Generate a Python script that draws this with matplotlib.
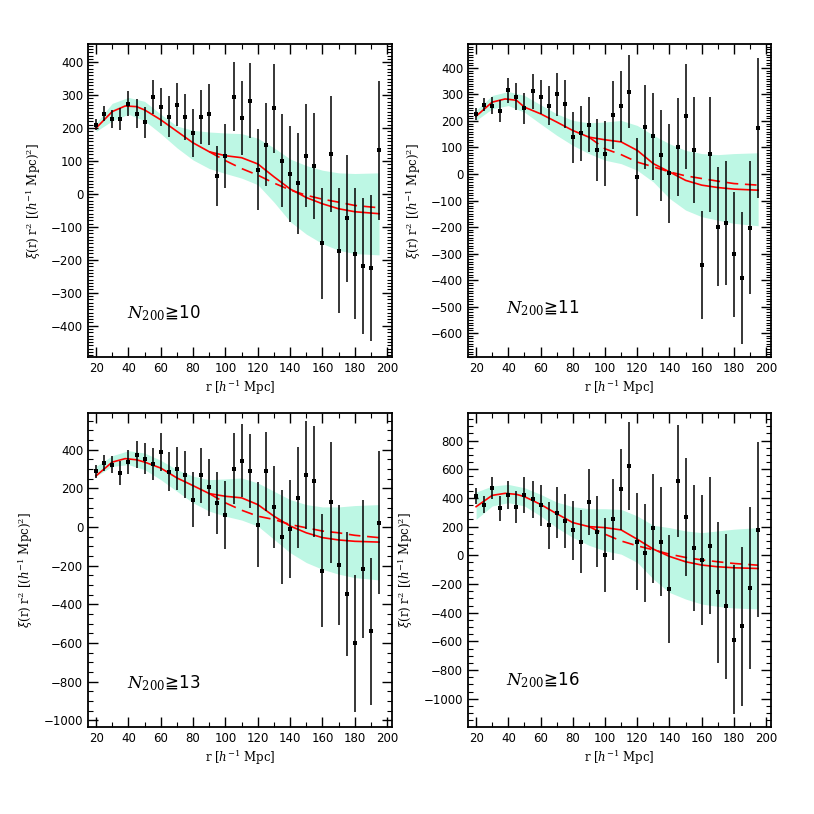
import numpy as np
import matplotlib
matplotlib.use("Agg")
import matplotlib.pyplot as plt
from matplotlib.ticker import MultipleLocator

r = np.arange(20, 200, 5)  # 20..195

# ---- Panel data ----
labels = ["10", "11", "13", "16"]

xi1 = [210, 244, 227, 227, 274, 244, 217, 295, 264, 234, 271, 233, 185, 234, 242, 54, 116, 295,
       231, 283, 74, 150, 260, 101, 60, 32, 116, 86, -150, 120, -172, -74, -181, -219, -225, 132]
er1 = [17, 22, 27, 33, 37, 43, 47, 52, 58, 62, 65, 69, 73, 83, 92, 91, 97, 105,
       112, 114, 124, 127, 135, 141, 146, 153, 157, 161, 168, 176, 190, 192, 199, 206, 222, 210]

xi2 = [227, 262, 258, 237, 315, 292, 248, 312, 290, 258, 300, 263, 139, 154, 186, 92, 77, 223,
       256, 311, -11, 177, 142, 70, 2, 102, 217, 92, -343, 74, -199, -184, -303, -393, -202, 173]
er2 = [23, 25, 33, 41, 46, 50, 58, 66, 64, 74, 81, 91, 96, 104, 103, 117, 123, 128,
       134, 136, 147, 160, 163, 173, 185, 185, 198, 200, 205, 216, 224, 233, 235, 249, 252, 264]

xi3 = [288, 331, 323, 280, 335, 374, 354, 326, 388, 285, 302, 271, 142, 268, 206, 125, 62, 302,
       343, 292, 13, 288, 104, -52, -9, 151, 271, 237, -227, 129, -196, -347, -602, -219, -540, 22]
er3 = [33, 40, 45, 60, 63, 70, 82, 83, 97, 101, 112, 123, 142, 142, 148, 159, 174, 183,
       189, 192, 219, 206, 214, 245, 253, 262, 279, 288, 292, 313, 311, 320, 354, 357, 382, 369]

xi4 = [413, 351, 471, 327, 420, 337, 420, 390, 348, 209, 297, 239, 175, 96, 374, 165, 3, 251,
       460, 622, 96, 15, 188, 96, -235, 517, 267, 50, -34, 66, -259, -356, -588, -495, -229, 177]
er4 = [58, 59, 76, 89, 99, 113, 124, 127, 143, 166, 176, 188, 205, 220, 230, 246, 258, 284,
       283, 306, 336, 342, 379, 380, 376, 392, 411, 440, 454, 478, 489, 503, 517, 554, 565, 610]

# model curves sampled at these r
rm = [20, 30, 38, 45, 50, 60, 70, 80, 90, 100, 110, 120, 130, 140, 150, 160, 170, 180, 195]

sol1 = [200, 250, 267, 265, 255, 225, 190, 155, 128, 116, 110, 91, 52, 15, -11, -30, -45, -54, -60]
sol2 = [218, 271, 283, 278, 252, 227, 196, 164, 139, 129, 121, 89, 39, 8, -24, -42, -51, -57, -61]
sol3 = [265, 336, 354, 348, 336, 305, 254, 214, 173, 159, 151, 116, 56, 5, -30, -55, -67, -74, -78]
sol4 = [339, 418, 432, 425, 409, 355, 290, 228, 200, 193, 177, 112, 43, -8, -45, -68, -80, -87, -92]

rd = [90, 100, 110, 120, 130, 140, 150, 160, 170, 180, 195]
dsh1 = [128, 101, 77, 57, 33, 12, -4, -16, -25, -35, -42]
dsh2 = [139, 95, 73, 45, 27, 8, -7, -17, -27, -36, -42]
dsh3 = [173, 125, 87, 56, 39, 13, -4, -21, -30, -43, -55]
dsh4 = [200, 147, 100, 66, 38, 8, -15, -32, -45, -57, -69]

rb = [20, 30, 40, 50, 60, 70, 80, 90, 100, 110, 120, 130, 140, 150, 160, 170, 180, 195]
up1 = [215, 275, 293, 281, 242, 206, 193, 188, 185, 183, 169, 140, 106, 86, 72, 64, 62, 64]
lo1 = [190, 222, 242, 222, 183, 140, 103, 77, 62, 48, 28, -25, -84, -122, -151, -171, -181, -185]
up2 = [240, 296, 311, 296, 261, 227, 202, 193, 196, 202, 183, 146, 114, 89, 77, 73, 77, 80]
lo2 = [202, 246, 258, 233, 189, 146, 108, 77, 52, 39, 14, -30, -92, -136, -161, -174, -186, -195]
up3 = [314, 369, 395, 383, 345, 297, 263, 245, 249, 254, 228, 185, 142, 116, 104, 104, 111, 116]
lo3 = [263, 314, 323, 297, 245, 185, 125, 82, 56, 36, 5, -64, -133, -184, -219, -244, -262, -274]
up4 = [441, 483, 494, 471, 425, 371, 339, 325, 325, 320, 274, 209, 193, 170, 158, 170, 182, 193]
lo4 = [251, 344, 367, 344, 274, 193, 124, 70, 31, 8, -50, -166, -259, -305, -340, -356, -367, -374]

ylims = [(-495, 455), (-690, 490), (-1035, 590), (-1197, 992)]
ymajor = [100, 100, 200, 200]
yminor = [10, 10, 50, 50]

panels = [
    (xi1, er1, sol1, dsh1, up1, lo1),
    (xi2, er2, sol2, dsh2, up2, lo2),
    (xi3, er3, sol3, dsh3, up3, lo3),
    (xi4, er4, sol4, dsh4, up4, lo4),
]

# axes rectangles (figure fractions)
rects = [
    (0.1081, 0.5614, 0.3735, 0.3845),
    (0.5750, 0.5614, 0.3722, 0.3845),
    (0.1081, 0.1069, 0.3735, 0.3857),
    (0.5750, 0.1069, 0.3722, 0.3857),
]
ann_y = [0.14, 0.157, 0.14, 0.15]
ann_x = [0.128, 0.125, 0.128, 0.125]

plt.rcParams['mathtext.fontset'] = 'dejavuserif'
fig = plt.figure(figsize=(8.14, 8.14), dpi=100)

band_color = '#bdf7e4'
for i, (xi, er, sol, dsh, up, lo) in enumerate(panels):
    ax = fig.add_axes(rects[i])
    ax.fill_between(rb, lo, up, color=band_color, lw=0, zorder=1)
    ax.plot(rm, sol, color='red', lw=1.2, zorder=3)
    ax.plot(rd, dsh, color='red', lw=1.2, ls=(0, (7, 4)), zorder=3)
    ax.errorbar(r, xi, yerr=er, fmt='s', color='black', ms=3, mew=0,
                ecolor='black', elinewidth=1.1, capsize=3, capthick=1.0, zorder=4)
    ax.set_xlim(15, 203)
    ax.set_ylim(*ylims[i])
    ax.xaxis.set_major_locator(MultipleLocator(20))
    ax.xaxis.set_minor_locator(MultipleLocator(10))
    ax.yaxis.set_major_locator(MultipleLocator(ymajor[i]))
    ax.yaxis.set_minor_locator(MultipleLocator(yminor[i]))
    ax.tick_params(which='both', direction='in', top=True, right=True, labelsize=8.5)
    ax.tick_params(which='major', length=7, width=1)
    ax.tick_params(which='minor', length=3.5, width=0.8)
    for s in ax.spines.values():
        s.set_linewidth(1.3)
    ax.set_xlabel(r'r [$h^{-1}$ Mpc]', family='DejaVu Serif', fontsize=8.5, labelpad=2)
    ax.set_ylabel(r'$\xi$(r) r$^2$ [($h^{-1}$ Mpc)$^2$]', family='DejaVu Serif', fontsize=8.5,
                  labelpad=6)
    ax.text(ann_x[i], ann_y[i], r'$N_{200}$' + '≧' + labels[i], transform=ax.transAxes,
            fontsize=12, va='center', ha='left', family='DejaVu Sans')

fig.savefig('out.png', dpi=100)
